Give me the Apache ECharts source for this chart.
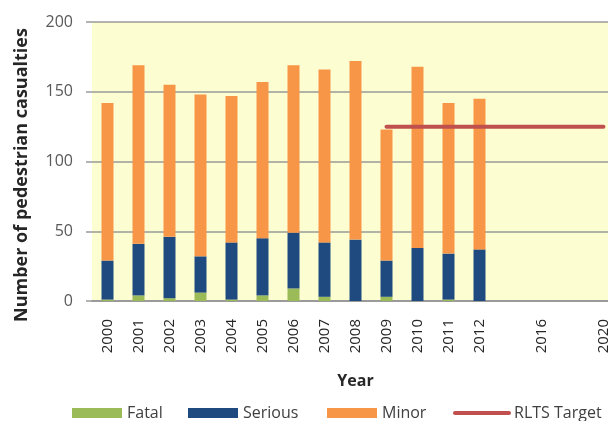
<!DOCTYPE html>
<html>
<head>
<meta charset="utf-8">
<script src="https://cdn.jsdelivr.net/npm/echarts@6/dist/echarts.min.js"></script>
<style>html,body{margin:0;padding:0;background:#fff;}#c{width:608px;height:421px;}</style>
</head>
<body>
<div id="c"></div>
<script>
var years = ['2000','2001','2002','2003','2004','2005','2006','2007','2008','2009','2010','2011','2012','','2016','','2020'];
var fatal   = [1, 4, 2, 6, 1, 4, 9, 3, 0, 3, 0, 1, 0];
var serious = [28, 37, 44, 26, 41, 41, 40, 39, 44, 26, 38, 33, 37];
var minor   = [113, 128, 109, 116, 105, 112, 120, 124, 128, 94, 130, 108, 108];
var target  = [null, null, null, null, null, null, null, null, null, 125, 125, 125, 125, 125, 125, 125, 125];
var yTicks = [0, 50, 100, 150, 200];
var legendNames = ['Fatal', 'Serious', 'Minor', 'RLTS Target'];

var font = 'Open Sans, Lato, sans-serif';
var legendLeft = [72, 188, 327, 453];
function mkLegend(i) {
  var item = {name: legendNames[i]};
  if (i < 3) item.icon = 'rect';
  else { item.itemStyle = {opacity: 0}; item.lineStyle = {width: 4, cap: 'round'}; }
  return {
    left: legendLeft[i], top: 405, padding: 0, itemWidth: i < 3 ? 50 : 54, itemHeight: 10,
    textStyle: {fontFamily: font, fontSize: 16, color: '#404040'},
    data: [item]
  };
}
var chart = echarts.init(document.getElementById('c'), null, {renderer: 'canvas'});
chart.setOption({
  animation: false,
  backgroundColor: '#ffffff',
  textStyle: {fontFamily: font},
  grid: {left: 92, top: 22, width: 527, height: 279, show: true, backgroundColor: '#FCFDD0', borderWidth: 0, containLabel: false, outerBoundsMode: 'none'},
  legend: [mkLegend(0), mkLegend(1), mkLegend(2), mkLegend(3)],
  graphic: [{
    type: 'text', x: 22, y: 175, rotation: Math.PI / 2,
    style: {text: 'Number of pedestrian casualties', font: 'bold 18px ' + font, fill: '#262626', align: 'center', verticalAlign: 'middle'}
  }],
  xAxis: {
    type: 'category', data: years,
    axisLine: {show: true, lineStyle: {color: '#9a9a9a', width: 2}},
    axisTick: {show: false},
    axisLabel: {rotate: 90, fontSize: 15, color: '#262626', margin: 18, fontFamily: font, interval: 0},
    name: 'Year', nameLocation: 'middle', nameGap: 72,
    nameTextStyle: {fontSize: 16, fontWeight: 'bold', color: '#262626', fontFamily: font}
  },
  yAxis: {
    type: 'value', min: 0, max: 200, interval: 50,
    axisLine: {show: false},
    axisTick: {show: true, length: 6, lineStyle: {color: '#9a9a9a', width: 1.5}},
    splitLine: {show: true, lineStyle: {color: '#9a9a9a', width: 1.5}},
    axisLabel: {fontSize: 16, color: '#595959', margin: 19, fontFamily: font,
      formatter: function (v) { return yTicks.indexOf(v) >= 0 ? String(v) : ''; }}
  },
  series: [
    {name: 'Fatal', type: 'bar', stack: 'a', data: fatal, barWidth: 12, itemStyle: {color: '#9BBB59'}},
    {name: 'Serious', type: 'bar', stack: 'a', data: serious, barWidth: 12, itemStyle: {color: '#1F4A80'}},
    {name: 'Minor', type: 'bar', stack: 'a', data: minor, barWidth: 12, itemStyle: {color: '#F79646'}},
    {name: 'RLTS Target', type: 'line', data: target, symbol: 'none', connectNulls: false,
      lineStyle: {color: '#C0504D', width: 4, cap: 'round'}, itemStyle: {color: '#C0504D'}}
  ]
});
</script>
</body>
</html>
